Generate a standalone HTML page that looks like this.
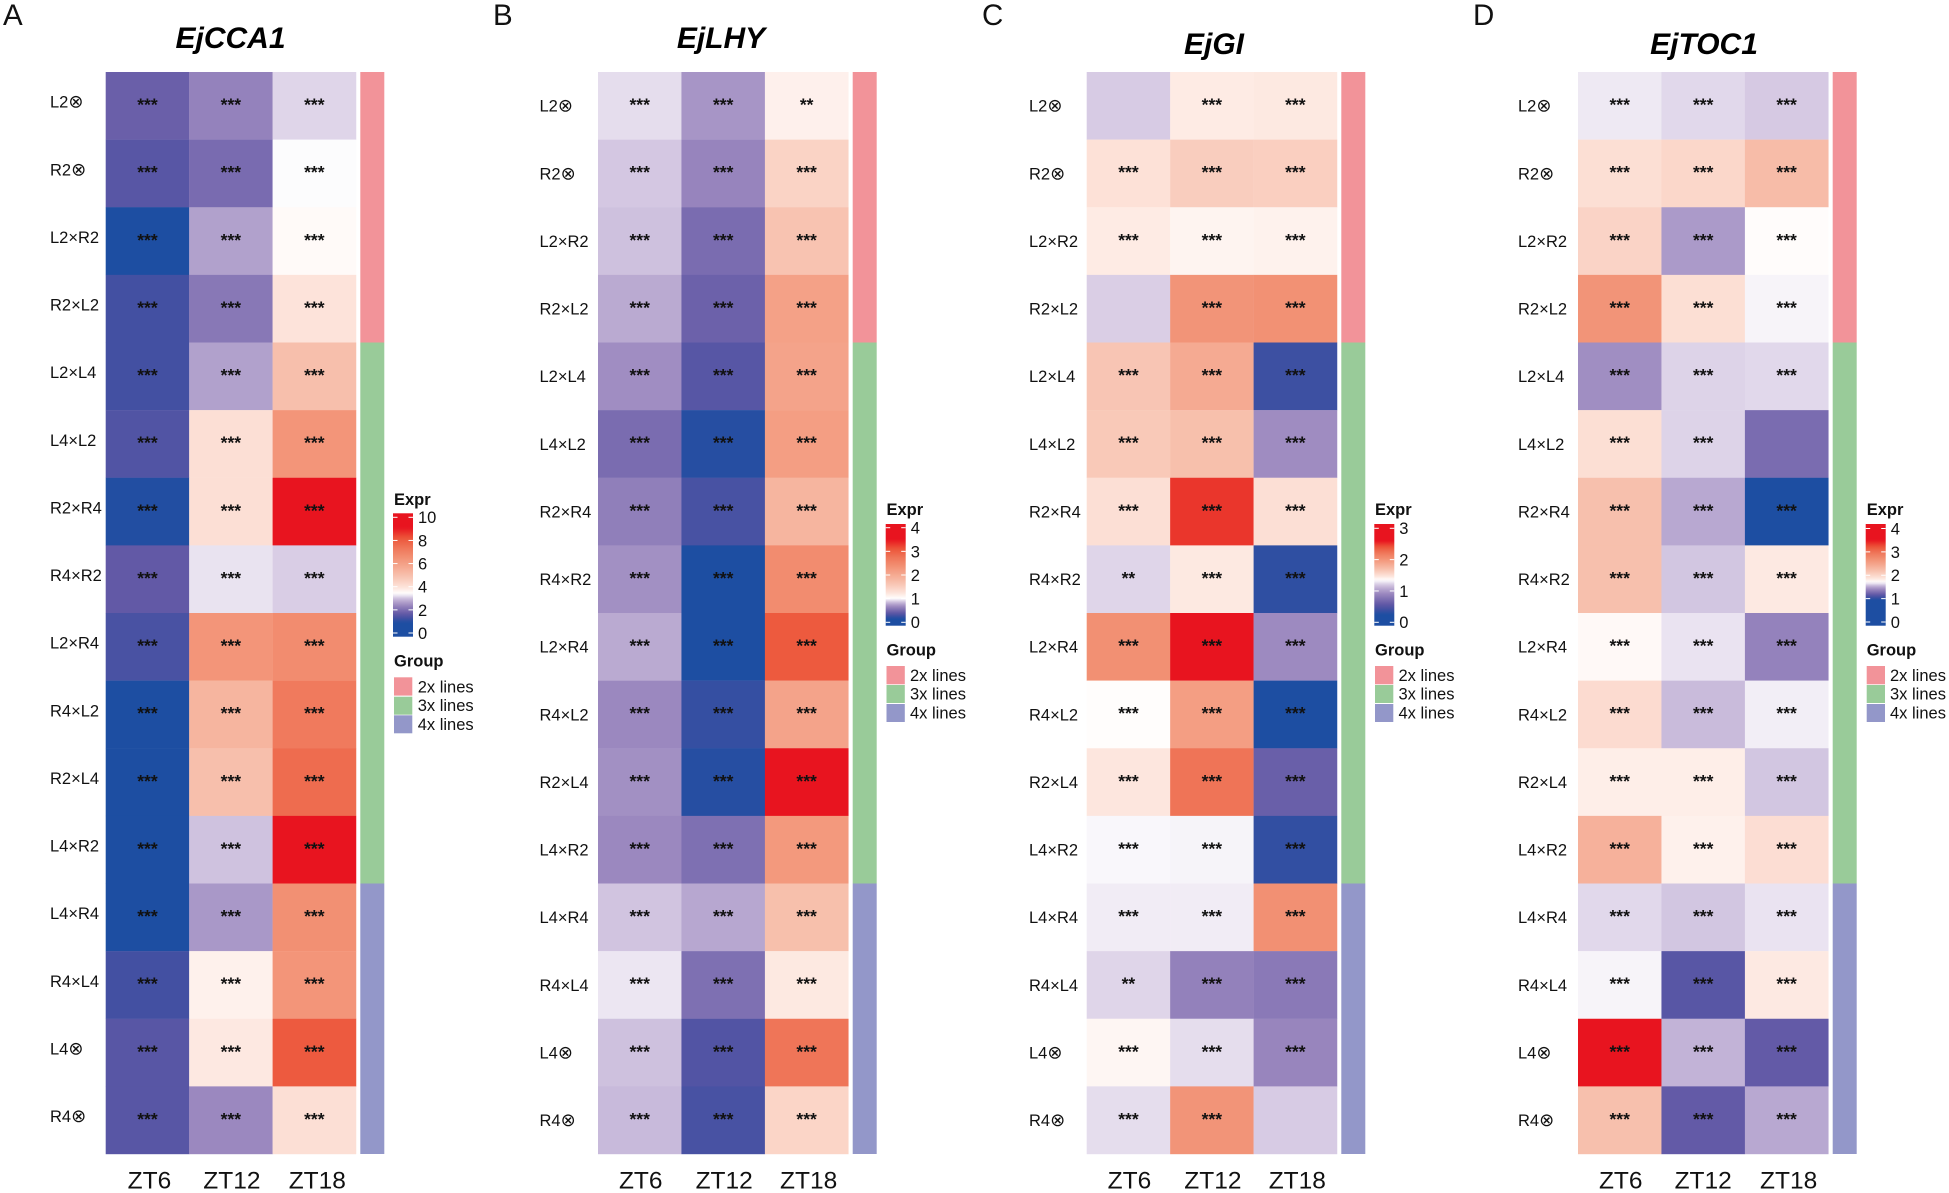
<!DOCTYPE html>
<html lang="en">
<head>
<meta charset="utf-8">
<title>Clock gene expression heatmaps</title>
<style>
html,body{margin:0;padding:0;background:#fff;width:1949px;height:1193px;overflow:hidden}
svg{display:block}
text{font-family:"Liberation Sans","DejaVu Sans",sans-serif;fill:#111}
.title{font-size:30px;font-weight:bold;font-style:italic;text-anchor:middle;fill:#000}
.letter{font-size:29.5px;fill:#111}
.lt{font-size:16.5px;font-weight:bold}
.li{font-size:16.5px}
.selfing{font-family:"DejaVu Sans",sans-serif;font-size:18px}
</style>
</head>
<body>
<svg id="figure" width="1949" height="1193" viewBox="0 0 1949 1193" xmlns="http://www.w3.org/2000/svg">
<defs id="gradients"></defs>
<rect x="0" y="0" width="1949" height="1193" fill="#fff"/>

<g id="panel-a">
  <text class="letter" x="3" y="25">A</text>
  <text class="title" x="230.5" y="48">EjCCA1</text>
  <text class="lt" x="394" y="505">Expr</text>
  <text class="lt" x="394" y="666.7">Group</text>
  <rect x="394" y="677.3" width="18.3" height="18.3" fill="#f29399"/>
  <rect x="394" y="696.7" width="18.3" height="18" fill="#99cb99"/>
  <rect x="394" y="715.3" width="18.3" height="18" fill="#9397c9"/>
  <text class="li" x="417.7" y="692.3">2x lines</text>
  <text class="li" x="417.7" y="710.9">3x lines</text>
  <text class="li" x="417.7" y="729.9">4x lines</text>
</g>

<g id="panel-b">
  <text class="letter" x="493" y="25">B</text>
  <text class="title" x="721" y="48">EjLHY</text>
  <text class="lt" x="886.5" y="515">Expr</text>
  <text class="lt" x="886.5" y="655.7">Group</text>
  <rect x="886.5" y="666" width="18.3" height="18.3" fill="#f29399"/>
  <rect x="886.5" y="685" width="18.3" height="18" fill="#99cb99"/>
  <rect x="886.5" y="704" width="18.3" height="18" fill="#9397c9"/>
  <text class="li" x="910" y="680.9">2x lines</text>
  <text class="li" x="910" y="699.6">3x lines</text>
  <text class="li" x="910" y="718.7">4x lines</text>
</g>

<g id="panel-c">
  <text class="letter" x="982" y="25">C</text>
  <text class="title" x="1214" y="54">EjGI</text>
  <text class="lt" x="1375" y="515">Expr</text>
  <text class="lt" x="1375" y="655.7">Group</text>
  <rect x="1375" y="666" width="18.3" height="18.3" fill="#f29399"/>
  <rect x="1375" y="685" width="18.3" height="18" fill="#99cb99"/>
  <rect x="1375" y="704" width="18.3" height="18" fill="#9397c9"/>
  <text class="li" x="1398.5" y="680.9">2x lines</text>
  <text class="li" x="1398.5" y="699.6">3x lines</text>
  <text class="li" x="1398.5" y="718.7">4x lines</text>
</g>

<g id="panel-d">
  <text class="letter" x="1473" y="25">D</text>
  <text class="title" x="1704" y="54">EjTOC1</text>
  <text class="lt" x="1866.7" y="515">Expr</text>
  <text class="lt" x="1866.7" y="655.7">Group</text>
  <rect x="1866.7" y="666" width="18.3" height="18.3" fill="#f29399"/>
  <rect x="1866.7" y="685" width="18.3" height="18" fill="#99cb99"/>
  <rect x="1866.7" y="704" width="18.3" height="18" fill="#9397c9"/>
  <text class="li" x="1890" y="680.9">2x lines</text>
  <text class="li" x="1890" y="699.6">3x lines</text>
  <text class="li" x="1890" y="718.7">4x lines</text>
</g>
</svg>

<script>
/* ---------- data ---------- */
const rowLabels = ["L2⊗","R2⊗","L2×R2","R2×L2","L2×L4","L4×L2","R2×R4","R4×R2","L2×R4","R4×L2","R2×L4","L4×R2","L4×R4","R4×L4","L4⊗","R4⊗"];
const timeLabels = ["ZT6","ZT12","ZT18"];
const groupNames = ["2x lines","3x lines","4x lines"];
const groupRowCounts = [4,8,4];

const ejCCA1Expr = [
 [1.75,2.30,3.15],[1.53,1.95,3.38],[0.90,2.68,3.51],[1.28,2.15,3.97],
 [1.28,2.68,5.00],[1.45,4.08,6.36],[0.95,4.08,9.10],[1.65,3.23,3.10],
 [1.35,6.36,6.65],[0.90,5.34,7.22],[0.90,5.00,7.62],[0.90,3.00,9.10],
 [0.90,2.58,6.54],[1.28,3.69,6.36],[1.53,3.86,8.07],[1.53,2.40,4.08]];
const ejLHYExpr = [
 [0.93,0.71,1.13],[0.88,0.64,1.45],[0.86,0.51,1.65],[0.79,0.45,2.13],
 [0.68,0.36,2.10],[0.51,0.18,2.18],[0.61,0.30,1.85],[0.69,0.15,2.43],
 [0.79,0.15,3.05],[0.66,0.23,2.10],[0.69,0.18,3.50],[0.66,0.53,2.25],
 [0.87,0.78,1.70],[0.95,0.53,1.20],[0.86,0.34,2.75],[0.84,0.30,1.43]];
const ejGIExpr = [
 [1.21,1.44,1.45],[1.49,1.61,1.60],[1.44,1.40,1.41],[1.22,2.01,2.03],
 [1.66,1.85,0.39],[1.64,1.70,0.93],[1.50,2.50,1.50],[1.24,1.45,0.33],
 [2.04,2.60,0.92],[1.36,1.94,0.25],[1.46,2.23,0.62],[1.33,1.32,0.34],
 [1.30,1.30,2.04],[1.24,0.86,0.81],[1.39,1.26,0.89],[1.26,2.01,1.21]];
const ejTOC1Expr = [
 [1.66,1.63,1.60],[1.92,1.99,2.24],[2.02,1.46,1.72],[2.65,1.92,1.68],
 [1.42,1.62,1.63],[1.92,1.62,1.27],[2.20,1.51,0.95],[2.20,1.59,1.84],
 [1.74,1.65,1.37],[1.95,1.56,1.67],[1.81,1.81,1.59],[2.35,1.79,1.93],
 [1.63,1.59,1.65],[1.68,1.14,1.84],[3.50,1.54,1.18],[2.20,1.18,1.51]];

/* significance level of each cell: number of stars per column */
const ejCCA1Stars = ["333","333","333","333","333","333","333","333","333","333","333","333","333","333","333","333"];
const ejLHYStars  = ["332","333","333","333","333","333","333","333","333","333","333","333","333","333","333","333"];
const ejGIStars   = ["033","333","333","033","333","333","333","233","333","333","333","333","333","233","333","330"];
const ejTOC1Stars = ["333","333","333","333","333","330","333","333","333","333","333","333","333","333","333","333"];

/* colour-scale breaks [low, white, high] */
const ejCCA1Breaks = [0.9,3.4,9.1];
const ejLHYBreaks  = [0.15,1.0,3.5];
const ejGIBreaks   = [0.25,1.35,2.6];
const ejTOC1Breaks = [0.95,1.7,3.5];

const ejCCA1Ticks = [0,2,4,6,8,10];
const ejLHYTicks  = [0,1,2,3,4];
const ejGITicks   = [0,1,2,3];
const ejTOC1Ticks = [0,1,2,3,4];

/* ---------- style / layout ---------- */
const groupColors = ["#f29399","#99cb99","#9397c9"];
const rampT = [-1,-0.85,-0.7,-0.55,-0.4,-0.25,-0.12,0,0.1,0.25,0.4,0.55,0.7,0.85,1];
const rampC = ["#1d4ea2","#4350a2","#6259a6","#7f70b2","#9b88bf","#b9a9d1","#d9cde5","#ffffff","#fde3da","#f8c5b3","#f5aa92","#f29073","#ef7558","#ec5338","#e8141f"];

const plotTop = 72, plotBottom = 1154, colWidth = 83.45, groupBarWidth = 24;
const panels = [
 {g:"panel-a",id:"a",values:ejCCA1Expr,stars:ejCCA1Stars,breaks:ejCCA1Breaks,ticks:ejCCA1Ticks,x0:105.7,gx:360.3,labelX:50,labelDy:-4,xShift:[2,1,3],barX:393,y0:633,yTop:517.3,barTop:513.3,barBot:636.7},
 {g:"panel-b",id:"b",values:ejLHYExpr,stars:ejLHYStars,breaks:ejLHYBreaks,ticks:ejLHYTicks,x0:598,gx:852.7,labelX:539.5,labelDy:0,xShift:[1,1,2],barX:885.7,y0:622.3,yTop:527.7,barTop:524,barBot:625.7},
 {g:"panel-c",id:"c",values:ejGIExpr,stars:ejGIStars,breaks:ejGIBreaks,ticks:ejGITicks,x0:1086.7,gx:1341.3,labelX:1029,labelDy:0,xShift:[1,1,2],barX:1374.3,y0:622.3,yTop:528.3,barTop:524,barBot:625.7},
 {g:"panel-d",id:"d",values:ejTOC1Expr,stars:ejTOC1Stars,breaks:ejTOC1Breaks,ticks:ejTOC1Ticks,x0:1578,gx:1832.7,labelX:1518,labelDy:0,xShift:[1,0,2],barX:1865.7,y0:622,yTop:528.5,barTop:524,barBot:625.7}
];

const NS = "http://www.w3.org/2000/svg";
function make(tag, attrs, text){
  const el = document.createElementNS(NS, tag);
  for (const k in attrs) el.setAttribute(k, attrs[k]);
  if (text !== undefined) el.textContent = text;
  return el;
}
function hexRgb(h){ return [parseInt(h.slice(1,3),16),parseInt(h.slice(3,5),16),parseInt(h.slice(5,7),16)]; }
function rampColor(t){
  t = Math.max(-1, Math.min(1, t));
  for (let i = 0; i < rampT.length - 1; i++){
    if (t <= rampT[i+1]){
      const f = (t - rampT[i]) / (rampT[i+1] - rampT[i]);
      const a = hexRgb(rampC[i]), b = hexRgb(rampC[i+1]);
      return "rgb(" + a.map((c,j) => Math.round(c + (b[j]-c)*f)).join(",") + ")";
    }
  }
  return rampC[rampC.length-1];
}
function colorScale(v, br){
  return rampColor(v < br[1] ? (v - br[1]) / (br[1] - br[0]) : (v - br[1]) / (br[2] - br[1]));
}
const rowHeight = (plotBottom - plotTop) / rowLabels.length;
function yScale(r){ return plotTop + r * rowHeight; }

function drawPanel(p){
  const root = document.getElementById(p.g);
  const xScale = c => p.x0 + c * colWidth;
  const top = Math.max(...p.ticks);
  const legendY = v => p.y0 - v * (p.y0 - p.yTop) / top;
  const legendV = y => (p.y0 - y) * top / (p.y0 - p.yTop);

  /* heatmap cells */
  p.values.forEach((row, r) => row.forEach((v, c) => {
    const cell = make("rect", {x:xScale(c), y:yScale(r), width:colWidth+0.2, height:rowHeight+0.2, fill:colorScale(v, p.breaks)});
    
    
    root.appendChild(cell);
  }));
  /* significance marks */
  p.values.forEach((row, r) => row.forEach((v, c) => {
    const n = Number(p.stars[r][c]);
    if (!n) return;
    const s = make("text", {x:xScale(c)+colWidth/2, y:yScale(r)+rowHeight/2+4.8, "text-anchor":"middle", "font-size":17.5, "font-weight":"bold", fill:"#111"}, "*".repeat(n));
    
    
    root.appendChild(s);
  }));
  /* row labels */
  rowLabels.forEach((lab, r) => {
    const t = make("text", {x:p.labelX, y:yScale(r)+rowHeight/2+p.labelDy+5.9, "font-size":16.5});
    
    
    if (lab.endsWith("⊗")) {
      t.appendChild(document.createTextNode(lab.slice(0, -1)));
      t.appendChild(make("tspan", {class:"selfing"}, "⊗"));
    } else {
      t.textContent = lab;
    }
    root.appendChild(t);
  });
  /* column labels */
  timeLabels.forEach((lab, c) => {
    const t = make("text", {x:xScale(c)+colWidth/2+p.xShift[c], y:1188.3, "text-anchor":"middle", "font-size":24.5}, lab);
    
    
    root.appendChild(t);
  });
  /* group annotation bar */
  let start = 0;
  groupRowCounts.forEach((count, i) => {
    const b = make("rect", {x:p.gx, y:yScale(start), width:groupBarWidth, height:count*rowHeight, fill:groupColors[i]});
    
    
    root.appendChild(b);
    start += count;
  });
  /* colour legend */
  const grad = make("linearGradient", {id:"grad-"+p.id, x1:0, y1:1, x2:0, y2:0});
  const N = 48;
  for (let i = 0; i <= N; i++){
    const y = p.barBot + (p.barTop - p.barBot) * i / N;
    grad.appendChild(make("stop", {offset:(i/N), "stop-color":colorScale(legendV(y), p.breaks)}));
  }
  document.getElementById("gradients").appendChild(grad);
  const bar = make("rect", {x:p.barX, y:p.barTop, width:20, height:p.barBot-p.barTop, fill:"url(#grad-"+p.id+")"});
  
  
  root.appendChild(bar);
  p.ticks.forEach(v => {
    const y = legendY(v);
    [[p.barX, p.barX+4.5],[p.barX+15.5, p.barX+20]].forEach(seg => {
      const m = make("line", {x1:seg[0], x2:seg[1], y1:y, y2:y, stroke:"#fff", "stroke-width":1});
      
      
      root.appendChild(m);
    });
    const t = make("text", {x:p.barX+25, y:y+5.9, "font-size":16.5}, String(v));
    
    
    root.appendChild(t);
  });
}
panels.forEach(drawPanel);
</script>
</body>
</html>
